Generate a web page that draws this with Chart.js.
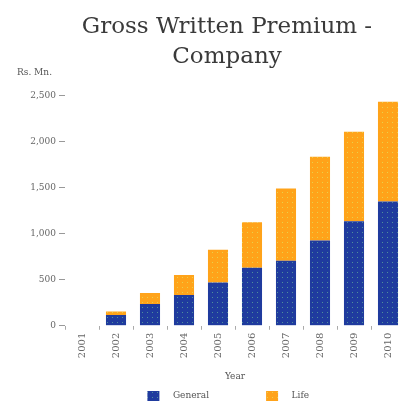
<!DOCTYPE html>
<html>
<head>
<meta charset="utf-8">
<script src="https://cdn.jsdelivr.net/npm/chart.js@4/dist/chart.umd.min.js"></script>
<style>
  html, body { margin: 0; padding: 0; background: #fff; }
  #wrap { width: 405px; height: 404px; position: relative; }
</style>
</head>
<body>
<div id="wrap"><canvas id="gwp"></canvas></div>
<script>
const years = ['2001', '2002', '2003', '2004', '2005', '2006', '2007', '2008', '2009', '2010']
const general = [null, 117, 237, 335, 469, 630, 706, 928, 1135, 1350]
const life = [null, 39, 120, 218, 357, 494, 786, 910, 975, 1084]

const serif = '"DejaVu Serif", "Liberation Serif", serif'

// small dotted tile used as the bar fill
function dotted (base, dot) {
  const c = document.createElement('canvas')
  c.width = 5
  c.height = 5
  const g = c.getContext('2d')
  g.fillStyle = base
  g.fillRect(0, 0, 5, 5)
  g.fillStyle = dot
  g.fillRect(2, 2, 1, 1)
  return g.createPattern(c, 'repeat')
}

// unit caption above the value axis
const unitLabel = {
  id: 'unitLabel',
  afterDraw (chart) {
    const ctx = chart.ctx
    ctx.save()
    ctx.font = '9px ' + serif
    ctx.fillStyle = '#555'
    ctx.textBaseline = 'middle'
    ctx.fillText('Rs. Mn.', 17, 73)
    ctx.restore()
  }
}

const ctx = document.getElementById('gwp')

new Chart(ctx, {
  type: 'bar',
  data: {
    labels: years,
    datasets: [
      {
        label: 'General',
        data: general,
        backgroundColor: dotted('#1f3b9e', '#4f8f9a'),
        barPercentage: 0.59,
        categoryPercentage: 1
      },
      {
        label: 'Life',
        data: life,
        backgroundColor: dotted('#ffa31a', '#e8d24a'),
        barPercentage: 0.59,
        categoryPercentage: 1
      }
    ]
  },
  options: {
    responsive: true,
    maintainAspectRatio: false,
    animation: false,
    layout: { padding: 0 },
    plugins: {
      title: {
        display: true,
        fullSize: false,
        // trailing spaces nudge the centred lines a little to the left
        text: ['Gross Written Premium -\u2002\u2009', 'Company\u2002\u2009'],
        color: '#3a3a3a',
        font: { family: serif, size: 23, weight: 'normal', lineHeight: 1.3 },
        padding: { top: 12, bottom: 24 }
      },
      legend: {
        position: 'bottom',
        fullSize: false,
        maxHeight: 16,
        labels: {
          color: '#555',
          font: { family: serif, size: 9 },
          boxWidth: 12,
          boxHeight: 10,
          padding: 3,
          // widen the gap between swatch and text, and between the two entries
          generateLabels (chart) {
            const items = Chart.defaults.plugins.legend.labels.generateLabels(chart)
            items.forEach((it, i) => {
              it.text = '\u2003' + it.text + (i === 0 ? '\u2003'.repeat(6) : '\u2003\u2002')
            })
            return items
          }
        }
      },
      tooltip: { enabled: false }
    },
    scales: {
      x: {
        stacked: true,
        grid: { display: true, drawOnChartArea: false, offset: true, tickLength: 4, color: '#aaa' },
        border: { display: false },
        ticks: {
          color: '#666',
          font: { family: serif, size: 10 },
          minRotation: 90,
          maxRotation: 90,
          padding: 3
        },
        title: {
          display: true,
          text: 'Year',
          color: '#555',
          font: { family: serif, size: 9 },
          padding: { top: 10, bottom: 6 }
        }
      },
      y: {
        stacked: true,
        min: 0,
        max: 2500,
        afterFit (scale) { scale.width = 65 },
        grid: { display: true, drawOnChartArea: false, tickLength: 6, color: '#999' },
        border: { display: false },
        ticks: {
          stepSize: 500,
          color: '#666',
          font: { family: serif, size: 9 },
          padding: 3
        }
      }
    }
  },
  plugins: [unitLabel]
})
</script>
</body>
</html>
